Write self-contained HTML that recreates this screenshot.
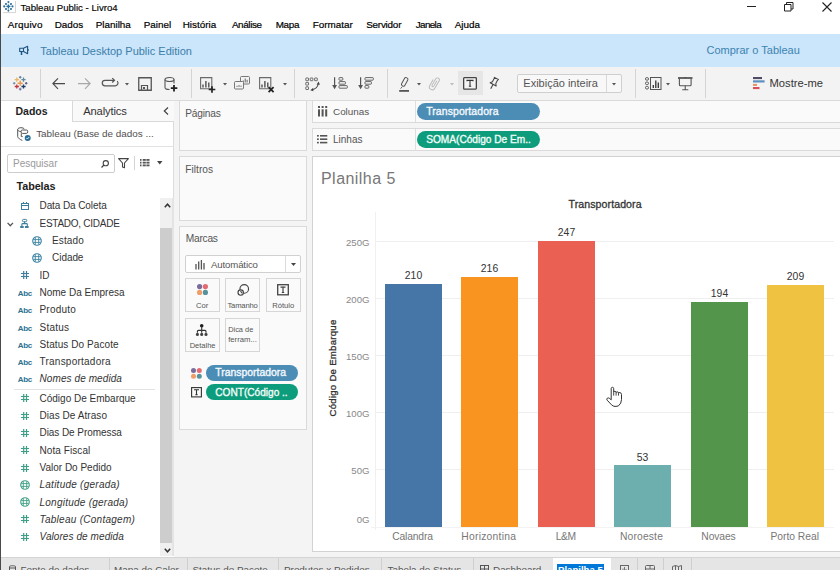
<!DOCTYPE html>
<html><head><meta charset="utf-8"><title>Tableau Public - Livro4</title>
<style>
*{margin:0;padding:0;box-sizing:border-box}
html,body{width:840px;height:570px;overflow:hidden;background:#fff}
body{position:relative;font-family:"Liberation Sans",sans-serif}
.t{position:absolute;white-space:nowrap}
.r{position:absolute;display:block}
svg.r{overflow:visible}
</style></head><body>
<div class="r" style="left:0px;top:34px;width:840px;height:33px;background:#cbe5fb;"></div>
<div class="r" style="left:0px;top:67px;width:840px;height:33px;background:#f3f3f3;"></div>
<div class="r" style="left:0px;top:100px;width:840px;height:1px;background:#dcdcdc;"></div>
<div class="r" style="left:0px;top:101px;width:840px;height:456px;background:#f4f4f4;"></div>
<div class="r" style="left:0px;top:101px;width:174px;height:456px;background:#ffffff;"></div>
<div class="r" style="left:173px;top:101px;width:1px;height:97px;background:#dcdcdc;"></div>
<div class="r" style="left:0px;top:557px;width:840px;height:1px;background:#d4d4d4;"></div>
<div class="r" style="left:0px;top:558px;width:840px;height:12px;background:#e5e5e5;"></div>
<div class="r" style="left:0px;top:0px;width:1px;height:570px;background:#4a4a4a;"></div>
<div class="t" style="left:20.50px;top:2px;font-size:9.6px;line-height:12px;color:#000;-webkit-text-stroke:0.15px #000;">Tableau Public - Livro4</div>
<div class="t" style="left:7.80px;top:19px;font-size:9.9px;line-height:12px;color:#000;letter-spacing:0.2px;-webkit-text-stroke:0.2px #000;">Arquivo</div>
<div class="t" style="left:54.70px;top:19px;font-size:9.9px;line-height:12px;color:#000;-webkit-text-stroke:0.2px #000;">Dados</div>
<div class="t" style="left:95.70px;top:19px;font-size:9.9px;line-height:12px;color:#000;-webkit-text-stroke:0.2px #000;">Planilha</div>
<div class="t" style="left:143.70px;top:19px;font-size:9.9px;line-height:12px;color:#000;-webkit-text-stroke:0.2px #000;">Painel</div>
<div class="t" style="left:182.70px;top:19px;font-size:9.9px;line-height:12px;color:#000;-webkit-text-stroke:0.2px #000;">História</div>
<div class="t" style="left:231.90px;top:19px;font-size:9.9px;line-height:12px;color:#000;letter-spacing:-0.38px;-webkit-text-stroke:0.2px #000;">Análise</div>
<div class="t" style="left:275.70px;top:19px;font-size:9.9px;line-height:12px;color:#000;letter-spacing:-0.3px;-webkit-text-stroke:0.2px #000;">Mapa</div>
<div class="t" style="left:312.70px;top:19px;font-size:9.9px;line-height:12px;color:#000;-webkit-text-stroke:0.2px #000;">Formatar</div>
<div class="t" style="left:366.20px;top:19px;font-size:9.9px;line-height:12px;color:#000;letter-spacing:-0.22px;-webkit-text-stroke:0.2px #000;">Servidor</div>
<div class="t" style="left:415.70px;top:19px;font-size:9.9px;line-height:12px;color:#000;letter-spacing:-0.62px;-webkit-text-stroke:0.2px #000;">Janela</div>
<div class="t" style="left:454.70px;top:19px;font-size:9.9px;line-height:12px;color:#000;-webkit-text-stroke:0.2px #000;">Ajuda</div>
<div class="t" style="left:40.30px;top:44px;font-size:11px;line-height:14px;color:#3b7fa9;">Tableau Desktop Public Edition</div>
<div class="t" style="left:706.50px;top:43px;font-size:11px;line-height:14px;color:#3b84b0;">Comprar o Tableau</div>
<div class="r" style="left:40px;top:69px;width:1px;height:29px;background:#d4d4d4;"></div>
<div class="r" style="left:191px;top:69px;width:1px;height:29px;background:#d4d4d4;"></div>
<div class="r" style="left:294px;top:69px;width:1px;height:29px;background:#d4d4d4;"></div>
<div class="r" style="left:387px;top:69px;width:1px;height:29px;background:#d4d4d4;"></div>
<div class="r" style="left:635px;top:69px;width:1px;height:29px;background:#d4d4d4;"></div>
<div class="r" style="left:705px;top:69px;width:1px;height:29px;background:#d4d4d4;"></div>
<div class="r" style="left:517px;top:74px;width:105px;height:19px;background:#f8f8f8;border:1px solid #cfcfcf;border-radius:2px;"></div>
<div class="r" style="left:606px;top:75px;width:1px;height:17px;background:#d8d8d8;"></div>
<div class="t" style="left:523.30px;top:76px;font-size:11px;line-height:14px;color:#555;">Exibição inteira</div>
<div class="r" style="left:458px;top:71px;width:25px;height:24px;background:#e6e6e6;"></div>
<div class="t" style="left:769.50px;top:76px;font-size:11.2px;line-height:14px;color:#333;">Mostre-me</div>
<div class="r" style="left:72px;top:101px;width:102px;height:21px;background:#f9f9f9;"></div>
<div class="r" style="left:72px;top:101px;width:1px;height:21px;background:#d9d9d9;"></div>
<div class="r" style="left:72px;top:121px;width:102px;height:1px;background:#d9d9d9;"></div>
<div class="t" style="left:15.50px;top:105px;font-size:10.5px;line-height:13px;color:#1e1e1e;font-weight:bold;">Dados</div>
<div class="t" style="left:83.20px;top:104px;font-size:11.2px;line-height:14px;color:#333;letter-spacing:-0.15px;">Analytics</div>
<div class="t" style="left:36.20px;top:128px;font-size:9.9px;line-height:12px;color:#505050;">Tableau (Base de dados ...</div>
<div class="r" style="left:1px;top:146px;width:173px;height:1px;background:#e2e2e2;"></div>
<div class="r" style="left:7px;top:154px;width:108px;height:19px;background:#fff;border:1px solid #cdcdcd;border-radius:2px;"></div>
<div class="t" style="left:13.00px;top:158px;font-size:10px;line-height:12px;color:#9a9a9a;">Pesquisar</div>
<div class="r" style="left:134px;top:156px;width:1px;height:14px;background:#d4d4d4;"></div>
<div class="t" style="left:16.60px;top:180px;font-size:10.8px;line-height:13px;color:#1e1e1e;font-weight:bold;letter-spacing:-0.1px;">Tabelas</div>
<div class="t" style="left:39.50px;top:200px;font-size:10px;line-height:12px;color:#333;letter-spacing:-0.090px;">Data Da Coleta</div>
<div class="t" style="left:39.50px;top:218px;font-size:10px;line-height:12px;color:#333;letter-spacing:-0.260px;">ESTADO, CIDADE</div>
<div class="t" style="left:52.10px;top:235px;font-size:10px;line-height:12px;color:#333;letter-spacing:0.100px;">Estado</div>
<div class="t" style="left:52.10px;top:252px;font-size:10px;line-height:12px;color:#333;letter-spacing:-0.070px;">Cidade</div>
<div class="t" style="left:39.50px;top:270px;font-size:10px;line-height:12px;color:#333;">ID</div>
<div class="t" style="left:39.50px;top:287px;font-size:10px;line-height:12px;color:#333;">Nome Da Empresa</div>
<div class="t" style="left:39.50px;top:304px;font-size:10px;line-height:12px;color:#333;letter-spacing:0.200px;">Produto</div>
<div class="t" style="left:39.50px;top:322px;font-size:10px;line-height:12px;color:#333;letter-spacing:0.250px;">Status</div>
<div class="t" style="left:39.50px;top:339px;font-size:10px;line-height:12px;color:#333;letter-spacing:0.090px;">Status Do Pacote</div>
<div class="t" style="left:39.50px;top:356px;font-size:10px;line-height:12px;color:#333;letter-spacing:0.235px;">Transportadora</div>
<div class="t" style="left:39.50px;top:373px;font-size:10px;line-height:12px;color:#333;font-style:italic;letter-spacing:0.090px;">Nomes de medida</div>
<div class="t" style="left:39.50px;top:393px;font-size:10px;line-height:12px;color:#333;">Código De Embarque</div>
<div class="t" style="left:39.50px;top:410px;font-size:10px;line-height:12px;color:#333;letter-spacing:0.060px;">Dias De Atraso</div>
<div class="t" style="left:39.50px;top:427px;font-size:10px;line-height:12px;color:#333;letter-spacing:-0.065px;">Dias De Promessa</div>
<div class="t" style="left:39.50px;top:445px;font-size:10px;line-height:12px;color:#333;letter-spacing:0.080px;">Nota Fiscal</div>
<div class="t" style="left:39.50px;top:462px;font-size:10px;line-height:12px;color:#333;">Valor Do Pedido</div>
<div class="t" style="left:39.50px;top:479px;font-size:10px;line-height:12px;color:#333;font-style:italic;letter-spacing:0.250px;">Latitude (gerada)</div>
<div class="t" style="left:39.50px;top:497px;font-size:10px;line-height:12px;color:#333;font-style:italic;letter-spacing:0.245px;">Longitude (gerada)</div>
<div class="t" style="left:39.50px;top:514px;font-size:10px;line-height:12px;color:#333;font-style:italic;letter-spacing:0.270px;">Tableau (Contagem)</div>
<div class="t" style="left:39.50px;top:531px;font-size:10px;line-height:12px;color:#333;font-style:italic;letter-spacing:0.080px;">Valores de medida</div>
<div class="r" style="left:14px;top:389px;width:141px;height:1px;background:#e3e3e3;"></div>
<div class="r" style="left:160px;top:198px;width:14px;height:358px;background:#f0f0f0;"></div>
<div class="r" style="left:172px;top:198px;width:2px;height:358px;background:#e4e4e4;"></div>
<div class="r" style="left:160px;top:228px;width:12px;height:315px;background:#cdcdcd;"></div>
<div class="r" style="left:179px;top:100px;width:128px;height:51px;background:#fafafa;border:1px solid #dadada;"></div>
<div class="t" style="left:185.30px;top:107px;font-size:10.2px;line-height:13px;color:#555;letter-spacing:-0.22px;">Páginas</div>
<div class="r" style="left:179px;top:156px;width:128px;height:65px;background:#fafafa;border:1px solid #dadada;"></div>
<div class="t" style="left:185.30px;top:163px;font-size:10.2px;line-height:13px;color:#555;">Filtros</div>
<div class="r" style="left:179px;top:226px;width:128px;height:204px;background:#fafafa;border:1px solid #dadada;"></div>
<div class="t" style="left:185.80px;top:232px;font-size:10.2px;line-height:13px;color:#555;letter-spacing:-0.25px;">Marcas</div>
<div class="r" style="left:185px;top:255px;width:116px;height:18px;background:#fff;border:1px solid #d0d0d0;border-radius:2px;"></div>
<div class="r" style="left:285px;top:256px;width:1px;height:16px;background:#dadada;"></div>
<div class="t" style="left:211.00px;top:259px;font-size:9.6px;line-height:12px;color:#555;letter-spacing:-0.12px;">Automático</div>
<div class="r" style="left:185px;top:278px;width:35px;height:34px;background:#fafafa;border:1px solid #d6d6d6;"></div>
<div class="r" style="left:225px;top:278px;width:35px;height:34px;background:#fafafa;border:1px solid #d6d6d6;"></div>
<div class="r" style="left:266px;top:278px;width:35px;height:34px;background:#fafafa;border:1px solid #d6d6d6;"></div>
<div class="r" style="left:185px;top:318px;width:35px;height:34px;background:#fafafa;border:1px solid #d6d6d6;"></div>
<div class="r" style="left:225px;top:318px;width:35px;height:34px;background:#fafafa;border:1px solid #d6d6d6;"></div>
<div class="t" style="left:196.00px;top:301px;font-size:7.6px;line-height:10px;color:#555;">Cor</div>
<div class="t" style="left:227.50px;top:301px;font-size:7.65px;line-height:10px;color:#555;letter-spacing:-0.2px;">Tamanho</div>
<div class="t" style="left:272.30px;top:301px;font-size:7.6px;line-height:10px;color:#555;">Rótulo</div>
<div class="t" style="left:189.70px;top:341px;font-size:7.5px;line-height:9px;color:#555;">Detalhe</div>
<div class="t" style="left:228.20px;top:325px;font-size:7.4px;line-height:9px;color:#555;">Dica de</div>
<div class="t" style="left:228.20px;top:335px;font-size:7.7px;line-height:10px;color:#555;">ferram...</div>
<div class="r" style="left:206px;top:365px;width:92px;height:16px;background:#4c8db6;border-radius:8px;"></div>
<div class="t" style="left:215.30px;top:366px;font-size:10.4px;line-height:13px;color:#f4f9fc;-webkit-text-stroke:0.35px #f4f9fc;">Transportadora</div>
<div class="r" style="left:206px;top:384px;width:92px;height:16px;background:#0e9d7c;border-radius:8px;"></div>
<div class="t" style="left:215.30px;top:386px;font-size:10.1px;line-height:13px;color:#f2fbf8;-webkit-text-stroke:0.35px #f2fbf8;">CONT(Código ..</div>
<div class="r" style="left:312px;top:100px;width:528px;height:23px;background:#fafafa;border:1px solid #dadada;border-right:none;"></div>
<div class="r" style="left:312px;top:128px;width:528px;height:23px;background:#fafafa;border:1px solid #dadada;border-right:none;"></div>
<div class="r" style="left:415px;top:101px;width:1px;height:21px;background:#dedede;"></div>
<div class="r" style="left:415px;top:129px;width:1px;height:22px;background:#dedede;"></div>
<div class="t" style="left:333.00px;top:106px;font-size:9.9px;line-height:12px;color:#555;">Colunas</div>
<div class="t" style="left:333.00px;top:134px;font-size:10px;line-height:12px;color:#555;">Linhas</div>
<div class="r" style="left:417px;top:103px;width:123px;height:17px;background:#4c8db6;border-radius:8.5px;"></div>
<div class="t" style="left:426.20px;top:105px;font-size:10.45px;line-height:13px;color:#f4f9fc;letter-spacing:0.1px;-webkit-text-stroke:0.35px #f4f9fc;">Transportadora</div>
<div class="r" style="left:417px;top:131px;width:123px;height:17px;background:#0e9d7c;border-radius:8.5px;"></div>
<div class="t" style="left:426.20px;top:133px;font-size:10.15px;line-height:13px;color:#f2fbf8;-webkit-text-stroke:0.35px #f2fbf8;">SOMA(Código De Em..</div>
<div class="r" style="left:312px;top:156px;width:528px;height:396px;background:#fff;border:1px solid #d2d2d2;border-right:none;"></div>
<div class="t" style="left:321.00px;top:169px;font-size:16px;line-height:20px;color:#777;letter-spacing:0.45px;">Planilha 5</div>
<div class="t" style="left:568.50px;top:198px;font-size:10.6px;line-height:13px;color:#333;letter-spacing:0.08px;-webkit-text-stroke:0.3px #333;">Transportadora</div>
<div class="t" style="left:333px;top:368px;font-size:9.6px;line-height:10px;color:#333;-webkit-text-stroke:0.3px #333;letter-spacing:0.27px;transform:translate(-50%,-50%) rotate(-90deg);">Código De Embarque</div>
<div class="r" style="left:375px;top:212px;width:1px;height:318px;background:#f0f0f0;"></div>
<div class="r" style="left:371px;top:527px;width:463px;height:1px;background:#f3f3f3;"></div>
<div class="t" style="right:470.50px;text-align:right;top:514px;font-size:9.6px;line-height:12px;color:#888;">0G</div>
<div class="r" style="left:376px;top:469px;width:458px;height:1px;background:#efefef;"></div>
<div class="t" style="right:470.50px;text-align:right;top:465px;font-size:9.6px;line-height:12px;color:#888;">50G</div>
<div class="r" style="left:376px;top:412px;width:458px;height:1px;background:#efefef;"></div>
<div class="t" style="right:470.50px;text-align:right;top:408px;font-size:9.6px;line-height:12px;color:#888;">100G</div>
<div class="r" style="left:376px;top:355px;width:458px;height:1px;background:#efefef;"></div>
<div class="t" style="right:470.50px;text-align:right;top:351px;font-size:9.6px;line-height:12px;color:#888;">150G</div>
<div class="r" style="left:376px;top:298px;width:458px;height:1px;background:#efefef;"></div>
<div class="t" style="right:470.50px;text-align:right;top:294px;font-size:9.6px;line-height:12px;color:#888;">200G</div>
<div class="r" style="left:376px;top:241px;width:458px;height:1px;background:#efefef;"></div>
<div class="t" style="right:470.50px;text-align:right;top:237px;font-size:9.6px;line-height:12px;color:#888;">250G</div>
<div class="r" style="left:385px;top:284px;width:57px;height:243px;background:#4676a8;"></div>
<div class="t" style="left:373.50px;width:80px;text-align:center;top:269px;font-size:10.4px;line-height:13px;color:#333;">210</div>
<div class="r" style="left:461px;top:277px;width:57px;height:250px;background:#f8941f;"></div>
<div class="t" style="left:449.50px;width:80px;text-align:center;top:262px;font-size:10.4px;line-height:13px;color:#333;">216</div>
<div class="r" style="left:538px;top:241px;width:57px;height:286px;background:#ea6052;"></div>
<div class="t" style="left:526.50px;width:80px;text-align:center;top:226px;font-size:10.4px;line-height:13px;color:#333;">247</div>
<div class="r" style="left:614px;top:465px;width:57px;height:62px;background:#6cafae;"></div>
<div class="t" style="left:602.50px;width:80px;text-align:center;top:451px;font-size:10.4px;line-height:13px;color:#333;">53</div>
<div class="r" style="left:691px;top:302px;width:57px;height:225px;background:#53964b;"></div>
<div class="t" style="left:679.50px;width:80px;text-align:center;top:287px;font-size:10.4px;line-height:13px;color:#333;">194</div>
<div class="r" style="left:767px;top:285px;width:57px;height:242px;background:#efc241;"></div>
<div class="t" style="left:755.50px;width:80px;text-align:center;top:270px;font-size:10.4px;line-height:13px;color:#333;">209</div>
<div class="t" style="left:392.30px;top:530px;font-size:10.3px;line-height:13px;color:#777;letter-spacing:-0.17px;">Calandra</div>
<div class="t" style="left:461.30px;top:530px;font-size:10.3px;line-height:13px;color:#777;letter-spacing:0.25px;">Horizontina</div>
<div class="t" style="left:555.70px;top:530px;font-size:10.3px;line-height:13px;color:#777;letter-spacing:-0.45px;">L&amp;M</div>
<div class="t" style="left:619.90px;top:530px;font-size:10.3px;line-height:13px;color:#777;letter-spacing:0.17px;">Noroeste</div>
<div class="t" style="left:701.30px;top:530px;font-size:10.3px;line-height:13px;color:#777;letter-spacing:-0.1px;">Novaes</div>
<div class="t" style="left:770.40px;top:530px;font-size:10.3px;line-height:13px;color:#777;">Porto Real</div>
<div class="t" style="left:20.50px;top:564px;font-size:9.9px;line-height:12px;color:#555;">Fonte de dados</div>
<div class="r" style="left:109px;top:558px;width:1px;height:12px;background:#cfcfcf;"></div>
<div class="t" style="left:114.00px;top:564px;font-size:9.9px;line-height:12px;color:#555;">Mapa de Calor</div>
<div class="r" style="left:187px;top:558px;width:1px;height:12px;background:#cfcfcf;"></div>
<div class="t" style="left:192.50px;top:564px;font-size:9.9px;line-height:12px;color:#555;">Status do Pacote</div>
<div class="r" style="left:278px;top:558px;width:1px;height:12px;background:#cfcfcf;"></div>
<div class="t" style="left:284.00px;top:564px;font-size:9.9px;line-height:12px;color:#555;">Produtos x Pedidos</div>
<div class="r" style="left:381px;top:558px;width:1px;height:12px;background:#cfcfcf;"></div>
<div class="t" style="left:387.50px;top:564px;font-size:9.9px;line-height:12px;color:#555;">Tabela de Status</div>
<div class="r" style="left:473px;top:558px;width:1px;height:12px;background:#cfcfcf;"></div>
<div class="t" style="left:493.00px;top:564px;font-size:9.9px;line-height:12px;color:#555;">Dashboard</div>
<div class="r" style="left:553px;top:558px;width:1px;height:12px;background:#cfcfcf;"></div>
<div class="r" style="left:553px;top:558px;width:58px;height:12px;background:#fff;"></div>
<div class="t" style="left:557px;top:564px;height:8px;width:47px;padding:0 0 0 1px;background:#0078d7;color:#fff;font-size:9.6px;line-height:11px;font-weight:bold;overflow:hidden;">Planilha 5</div>
<div class="r" style="left:637px;top:558px;width:1px;height:12px;background:#cfcfcf;"></div>
<div class="r" style="left:663px;top:558px;width:1px;height:12px;background:#cfcfcf;"></div>
<div class="r" style="left:691px;top:558px;width:1px;height:12px;background:#cfcfcf;"></div>
<svg class="r" style="left:0px;top:0px;" width="17" height="14" viewBox="0 0 17 14"><path d="M3 12.6H15.5V1" stroke="#d4d4d4" stroke-width="1" fill="none"/><path d="M8.4 2V10.6M4.2 6.4H12.5M6 4L11 9M11 4L6 9" stroke="#c5e8f2" stroke-width="0.8"/><circle cx="8.4" cy="2" r="1.05" fill="#2d6e98"/><circle cx="8.4" cy="10.6" r="1.05" fill="#2d6e98"/><circle cx="4.2" cy="6.4" r="1.05" fill="#2d6e98"/><circle cx="12.5" cy="6.4" r="1.05" fill="#2d6e98"/><circle cx="6" cy="4" r="1.05" fill="#2d6e98"/><circle cx="11" cy="4" r="1.05" fill="#2d6e98"/><circle cx="6" cy="9" r="1.05" fill="#2d6e98"/><circle cx="11" cy="9" r="1.05" fill="#2d6e98"/><path d="M8.4 4.4V8.4M6.4 6.4H10.4" stroke="#2d6e98" stroke-width="1.3"/></svg>
<div class="r" style="left:747px;top:6px;width:9px;height:1px;background:#222;"></div>
<svg class="r" style="left:784px;top:2px;" width="10" height="10" viewBox="0 0 10 10"><path d="M0.5 2.5h6.5v6.5h-6.5z M2.5 2.5v-2h6.5v6.5h-2" fill="none" stroke="#222" stroke-width="1"/></svg>
<svg class="r" style="left:822px;top:2px;" width="10" height="10" viewBox="0 0 10 10"><path d="M0.5 0.5L9.5 9.5M9.5 0.5L0.5 9.5" stroke="#222" stroke-width="1.1"/></svg>
<svg class="r" style="left:19px;top:45px;" width="11" height="11" viewBox="0 0 11 11"><path d="M0.7 3.3H4.5L8.6 1.2V8.7L4.5 6.5H0.7ZM4.5 3.3V6.5" fill="none" stroke="#1f5480" stroke-width="1.1" stroke-linejoin="round"/><rect x="8.6" y="4.1" width="1.1" height="1.8" fill="#1f5480"/><path d="M2.5 6.5V10" stroke="#1f5480" stroke-width="1.5"/></svg>
<svg class="r" style="left:13px;top:76px;" width="15" height="15" viewBox="0 0 15 15"><path d="M4.6 7.2H9.8M7.2 4.6V9.8" stroke="#e99a4e" stroke-width="1.4"/><path d="M1.6999999999999997 3.7H5.9M3.8 1.6V5.800000000000001" stroke="#efb25e" stroke-width="1.3"/><path d="M8.4 3.7H12.6M10.5 1.6V5.800000000000001" stroke="#5e8ca3" stroke-width="1.3"/><path d="M1.6999999999999997 10.5H5.9M3.8 8.4V12.6" stroke="#c6343c" stroke-width="1.3"/><path d="M8.4 10.5H12.6M10.5 8.4V12.6" stroke="#1d3e6b" stroke-width="1.3"/><path d="M5.9 1.2H8.5M7.2 -0.10000000000000009V2.5" stroke="#5a7d9c" stroke-width="1.1"/><path d="M5.9 13.1H8.5M7.2 11.799999999999999V14.4" stroke="#6c78a0" stroke-width="1.1"/><path d="M-0.10000000000000009 7.2H2.5M1.2 5.9V8.5" stroke="#6f8ca3" stroke-width="1.1"/><path d="M11.899999999999999 7.2H14.5M13.2 5.9V8.5" stroke="#55557f" stroke-width="1.1"/></svg>
<svg class="r" style="left:51px;top:78px;" width="15" height="12" viewBox="0 0 15 12"><path d="M14 5.6H1.9M7 0.4L1.9 5.6L7 10.8" fill="none" stroke="#4a4a4a" stroke-width="1.2"/></svg>
<svg class="r" style="left:77px;top:78px;" width="15" height="12" viewBox="0 0 15 12"><path d="M1 5.6h12.1M8 0.4L13.1 5.6L8 10.8" fill="none" stroke="#a8a8a8" stroke-width="1.2"/></svg>
<svg class="r" style="left:102px;top:79px;" width="17" height="9" viewBox="0 0 17 9"><path d="M3 1.3H12.2M3 1.3A2.75 2.75 0 0 0 3 6.8H13.3A2.75 2.75 0 0 0 15.2 2.1" fill="none" stroke="#555" stroke-width="1.2"/><path d="M10.2 -0.9L12.5 1.3L10.2 3.5" fill="none" stroke="#555" stroke-width="1.2"/></svg>
<svg class="r" style="left:125px;top:82.5px;" width="4" height="3" viewBox="0 0 4 3"><path d="M0 0h4L2 2.5z" fill="#555"/></svg>
<svg class="r" style="left:138px;top:77px;" width="14" height="14" viewBox="0 0 14 14"><path d="M0.75 0.75h12.5v12.5H0.75z" fill="none" stroke="#555" stroke-width="1.3"/><path d="M3.5 13V8.5h6V13" fill="none" stroke="#555" stroke-width="1.2"/><rect x="5" y="10" width="2" height="2" fill="#555"/></svg>
<svg class="r" style="left:164px;top:77px;" width="14" height="15" viewBox="0 0 14 15"><ellipse cx="5.5" cy="2.5" rx="4.5" ry="2" fill="none" stroke="#555" stroke-width="1.1"/><path d="M1 2.5v8c0 1.1 2 2 4.5 2M10 2.5v4" fill="none" stroke="#555" stroke-width="1.1"/><path d="M10 8v6.5M6.8 11.2h6.5" stroke="#222" stroke-width="1.8"/></svg>
<svg class="r" style="left:200px;top:77px;" width="17" height="16" viewBox="0 0 17 16"><path d="M0.6 0.6h11.2v11.2h-11.2z" fill="none" stroke="#6a6a6a" stroke-width="1.1"/><path d="M3 10.6V7.6M5.9 10.6V4M8.8 10.6V5.6" stroke="#444" stroke-width="1.3"/><path d="M12 9.2v6.6M8.7 12.5h6.6" stroke="#222" stroke-width="1.7"/></svg>
<svg class="r" style="left:223px;top:82.5px;" width="4" height="3" viewBox="0 0 4 3"><path d="M0 0h4L2 2.5z" fill="#555"/></svg>
<svg class="r" style="left:234px;top:76px;" width="16" height="14" viewBox="0 0 16 14"><rect x="6.5" y="0.5" width="9" height="7.5" rx="1" fill="#f3f3f3" stroke="#777" stroke-width="1"/><path d="M9.3 6.5V4.5M11.2 6.5V2.5M13.1 6.5V3.8" stroke="#555" stroke-width="0.9"/><rect x="0.5" y="5.5" width="9" height="7.5" rx="1" fill="#f3f3f3" stroke="#777" stroke-width="1"/><path d="M3 11V9.8M5 11V9M7 11V9.6" stroke="#666" stroke-width="0.9"/></svg>
<svg class="r" style="left:259px;top:77px;" width="17" height="16" viewBox="0 0 17 16"><path d="M0.6 0.6h11.2v11.2h-11.2z" fill="none" stroke="#6a6a6a" stroke-width="1.1"/><path d="M3 10.6V7.6M5.9 10.6V4M8.8 10.6V5.6" stroke="#444" stroke-width="1.3"/><path d="M9.6 10.2l5 5M14.6 10.2l-5 5" stroke="#222" stroke-width="1.7"/></svg>
<svg class="r" style="left:283px;top:82.5px;" width="4" height="3" viewBox="0 0 4 3"><path d="M0 0h4L2 2.5z" fill="#555"/></svg>
<svg class="r" style="left:305px;top:77px;" width="16" height="15" viewBox="0 0 16 15"><g fill="none" stroke="#555" stroke-width="0.85"><rect x="0.8" y="1" width="2.7" height="2.7" rx="0.4"/><rect x="5.2" y="1" width="2.7" height="2.7" rx="0.4"/><rect x="9.6" y="1" width="2.7" height="2.7" rx="0.4"/><rect x="0.8" y="5.4" width="2.7" height="2.7" rx="0.4"/><rect x="0.8" y="9.8" width="2.7" height="2.7" rx="0.4"/></g><path d="M7.3 12.6Q12.3 11.6 13.2 7" fill="none" stroke="#444" stroke-width="1.1"/><path d="M11.6 7.4L13.6 4.6L14.9 7.8Z M8 11L5.3 13.2L8.4 14.2Z" fill="#444"/></svg>
<svg class="r" style="left:332px;top:77px;" width="16" height="13" viewBox="0 0 16 13"><path d="M2.6 0.3V8.5" stroke="#555" stroke-width="1.2"/><path d="M0.2 8L5 8L2.6 12.2Z" fill="#555"/><g fill="none" stroke="#555" stroke-width="0.9"><rect x="7" y="0.6" width="3.8" height="2.6" rx="0.6"/><rect x="7" y="4.6" width="6.4" height="2.6" rx="0.6"/><rect x="7" y="8.6" width="8.3" height="2.6" rx="0.6"/></g></svg>
<svg class="r" style="left:358px;top:77px;" width="16" height="13" viewBox="0 0 16 13"><path d="M2.6 0.3V8.5" stroke="#555" stroke-width="1.2"/><path d="M0.2 8L5 8L2.6 12.2Z" fill="#555"/><g fill="none" stroke="#555" stroke-width="0.9"><rect x="7" y="0.6" width="8.3" height="2.6" rx="0.6"/><rect x="7" y="4.6" width="6.4" height="2.6" rx="0.6"/><rect x="7" y="8.6" width="3.8" height="2.6" rx="0.6"/></g></svg>
<svg class="r" style="left:398px;top:77px;" width="12" height="15" viewBox="0 0 12 15"><rect x="-1.8" y="0" width="3.6" height="9" rx="1.3" fill="none" stroke="#555" stroke-width="1" transform="translate(8.8 0.9) rotate(28)"/><path d="M4.3 9.6L2.6 11.6" stroke="#666" stroke-width="1"/><rect x="1.2" y="13" width="9.8" height="1.8" fill="#555"/></svg>
<svg class="r" style="left:416.7px;top:82.8px;" width="4" height="3" viewBox="0 0 4 3"><path d="M0 0h4L2 2.5z" fill="#555"/></svg>
<svg class="r" style="left:429px;top:77px;" width="12" height="13" viewBox="0 0 12 13"><g transform="translate(5.3 6.2) rotate(30) translate(-2.9 -6.6)"><path d="M3.9 3.2v6.2a1 1 0 0 1-2 0V2.2a2 2 0 0 1 4 0v8.6a2.9 2.9 0 0 1-5.8 0V4" fill="none" stroke="#b9b9b9" stroke-width="0.95"/></g></svg>
<svg class="r" style="left:450px;top:83px;" width="4" height="3" viewBox="0 0 4 3"><path d="M0 0h4L2 2.5z" fill="#bbb"/></svg>
<svg class="r" style="left:463px;top:77px;" width="14" height="13" viewBox="0 0 14 13"><rect x="0.65" y="0.65" width="12.7" height="11.5" rx="0.8" fill="#f4f4f4" stroke="#444" stroke-width="1.3"/><path d="M4 4.2V3.4h6v0.8M7 3.4v5.8M5.8 9.3h2.4" fill="none" stroke="#333" stroke-width="1.1"/></svg>
<svg class="r" style="left:489px;top:77px;" width="11" height="13" viewBox="0 0 11 13"><g transform="translate(7.6 1) rotate(28.6)"><path d="M-2.8 0.5H2.8M-1.9 0.5V5.2L-3.4 7.2H3.4L1.9 5.2V0.5" fill="none" stroke="#444" stroke-width="1.05" stroke-linejoin="round"/><path d="M0 7.2V12.2" stroke="#444" stroke-width="1.1"/></g></svg>
<svg class="r" style="left:611.5px;top:82.5px;" width="4" height="3" viewBox="0 0 4 3"><path d="M0 0h4L2 2.5z" fill="#555"/></svg>
<svg class="r" style="left:644.5px;top:77px;" width="17" height="13" viewBox="0 0 17 13"><g fill="none" stroke="#555" stroke-width="1"><rect x="0.5" y="0.6" width="3" height="2.6" rx="1.2"/><rect x="0.5" y="5" width="3" height="2.6" rx="1.2"/><rect x="0.5" y="9.4" width="3" height="2.6" rx="1.2"/><rect x="5.5" y="0.5" width="10.5" height="12"/></g><path d="M8.3 11V8M10.8 11V3.5M13.3 11V5.5" stroke="#333" stroke-width="1.3"/></svg>
<svg class="r" style="left:665.5px;top:82.5px;" width="4" height="3" viewBox="0 0 4 3"><path d="M0 0h4L2 2.5z" fill="#555"/></svg>
<svg class="r" style="left:678px;top:77px;" width="15" height="14" viewBox="0 0 15 14"><path d="M0 1h14.5" stroke="#444" stroke-width="1.6"/><path d="M7.25 0v1" stroke="#444" stroke-width="1"/><path d="M1.4 1.5v6.3q0 1 1 1h9.7q1 0 1-1V1.5" fill="none" stroke="#555" stroke-width="1.1"/><path d="M7.25 8.8v3.8M4.2 12.8h6.1" stroke="#555" stroke-width="1.1"/></svg>
<svg class="r" style="left:753px;top:77px;" width="13" height="13" viewBox="0 0 13 13"><rect x="0" y="0" width="9" height="2.1" fill="#4f4d66"/><rect x="0" y="3.3" width="11.6" height="2.2" fill="#5d8fc0"/><rect x="0" y="6.9" width="4" height="2" fill="#e8935f"/><rect x="0" y="10" width="6.5" height="2.1" fill="#dc4f58"/></svg>
<svg class="r" style="left:17px;top:127px;" width="15" height="15" viewBox="0 0 15 15"><g fill="none" stroke="#555" stroke-width="1"><path d="M7.3 1.8C6.4 0.3 1.4 0.3 0.7 2V9.6C1.1 11.2 3.1 12.7 5.3 13.4"/><path d="M0.9 3.2C2 4.4 3 4.6 4 4.4"/><rect x="4.1" y="3" width="6.6" height="3.4" rx="1.3"/><path d="M4.3 6.4V9.6h1.4"/></g><circle cx="10.7" cy="10.9" r="3" fill="#2b6d95"/><path d="M9.3 10.9l1.1 1.1 1.8-2" fill="none" stroke="#dff" stroke-width="0.9"/></svg>
<svg class="r" style="left:162.5px;top:106.5px;" width="6" height="8" viewBox="0 0 6 8"><path d="M5 0.5L1.3 4 5 7.5" fill="none" stroke="#444" stroke-width="1.2"/></svg>
<svg class="r" style="left:100.5px;top:160px;" width="8" height="8" viewBox="0 0 8 8"><circle cx="4.8" cy="3.2" r="2.6" fill="none" stroke="#444" stroke-width="1.1"/><path d="M3 5l-2.5 2.5" stroke="#444" stroke-width="1.3"/></svg>
<svg class="r" style="left:118px;top:157.5px;" width="11" height="10.5" viewBox="0 0 11 10.5"><path d="M0.6 0.6h9.8L6.5 5v4.8L4.5 9V5z" fill="none" stroke="#444" stroke-width="1.1" stroke-linejoin="round"/></svg>
<svg class="r" style="left:140px;top:159px;" width="11" height="8" viewBox="0 0 11 8"><g fill="#555"><rect x="0" y="0.0" width="1.5" height="1.8"/><rect x="2.7" y="0.0" width="3.1" height="1.8"/><rect x="6.4" y="0.0" width="3.1" height="1.8"/><rect x="0" y="2.75" width="1.5" height="1.8"/><rect x="2.7" y="2.75" width="3.1" height="1.8"/><rect x="6.4" y="2.75" width="3.1" height="1.8"/><rect x="0" y="5.5" width="1.5" height="1.8"/><rect x="2.7" y="5.5" width="3.1" height="1.8"/><rect x="6.4" y="5.5" width="3.1" height="1.8"/></g></svg>
<svg class="r" style="left:157.2px;top:161px;" width="5.5" height="4" viewBox="0 0 5.5 4"><path d="M0 0h5.5L2.75 3.5z" fill="#444"/></svg>
<svg class="r" style="left:20px;top:201px;" width="10" height="10" viewBox="0 0 10 10"><rect x="1.5" y="2.5" width="7" height="6" fill="none" stroke="#3d7f9c" stroke-width="1"/><path d="M1.5 4.5h7" stroke="#3d7f9c" stroke-width="1"/><path d="M3.5 1v2M6.5 1v2" stroke="#3d7f9c" stroke-width="1"/></svg>
<svg class="r" style="left:20px;top:218px;" width="10" height="11" viewBox="0 0 10 11"><rect x="2.4" y="1.4" width="4.4" height="2.3" rx="1.15" fill="none" stroke="#3d7f9c" stroke-width="1"/><path d="M4.6 3.7V5.6M1.9 8.2V6.3Q1.9 5.6 2.6 5.6H6.6Q7.3 5.6 7.3 6.3V8.2" fill="none" stroke="#3d7f9c" stroke-width="1.1"/><rect x="0.2" y="8" width="3.5" height="2" fill="#3d7f9c"/><rect x="5" y="8" width="3.6" height="2" fill="#3d7f9c"/></svg>
<svg class="r" style="left:32px;top:236px;" width="10" height="10" viewBox="0 0 10 10"><circle cx="5" cy="5" r="4.3" fill="none" stroke="#3b84a2" stroke-width="1.1"/><path d="M3.3 1.3V8.7M6.7 1.3V8.7M1.2 3.6H8.8M1.2 6.4H8.8" stroke="#3b84a2" stroke-width="0.9"/></svg>
<svg class="r" style="left:32px;top:253px;" width="10" height="10" viewBox="0 0 10 10"><circle cx="5" cy="5" r="4.3" fill="none" stroke="#3b84a2" stroke-width="1.1"/><path d="M3.3 1.3V8.7M6.7 1.3V8.7M1.2 3.6H8.8M1.2 6.4H8.8" stroke="#3b84a2" stroke-width="0.9"/></svg>
<svg class="r" style="left:20.8px;top:271.4px;" width="8" height="8" viewBox="0 0 8 8"><path d="M2.7 0v8M5.5 0v8M0 2.5h8M0 5.5h8" stroke="#3d7f9c" stroke-width="1.2"/></svg>
<div class="t" style="left:17.80px;top:289px;font-size:8px;line-height:10px;color:#2e7190;font-weight:bold;letter-spacing:-0.3px;">Abc</div>
<div class="t" style="left:17.80px;top:306px;font-size:8px;line-height:10px;color:#2e7190;font-weight:bold;letter-spacing:-0.3px;">Abc</div>
<div class="t" style="left:17.80px;top:324px;font-size:8px;line-height:10px;color:#2e7190;font-weight:bold;letter-spacing:-0.3px;">Abc</div>
<div class="t" style="left:17.80px;top:341px;font-size:8px;line-height:10px;color:#2e7190;font-weight:bold;letter-spacing:-0.3px;">Abc</div>
<div class="t" style="left:17.80px;top:358px;font-size:8px;line-height:10px;color:#2e7190;font-weight:bold;letter-spacing:-0.3px;">Abc</div>
<div class="t" style="left:17.80px;top:375px;font-size:8px;line-height:10px;color:#2e7190;font-weight:bold;letter-spacing:-0.3px;">Abc</div>
<svg class="r" style="left:20.8px;top:394.0px;" width="8" height="8" viewBox="0 0 8 8"><path d="M2.7 0v8M5.5 0v8M0 2.5h8M0 5.5h8" stroke="#3d9f86" stroke-width="1.2"/></svg>
<svg class="r" style="left:20.8px;top:411.5px;" width="8" height="8" viewBox="0 0 8 8"><path d="M2.7 0v8M5.5 0v8M0 2.5h8M0 5.5h8" stroke="#3d9f86" stroke-width="1.2"/></svg>
<svg class="r" style="left:20.8px;top:428.9px;" width="8" height="8" viewBox="0 0 8 8"><path d="M2.7 0v8M5.5 0v8M0 2.5h8M0 5.5h8" stroke="#3d9f86" stroke-width="1.2"/></svg>
<svg class="r" style="left:20.8px;top:446.1px;" width="8" height="8" viewBox="0 0 8 8"><path d="M2.7 0v8M5.5 0v8M0 2.5h8M0 5.5h8" stroke="#3d9f86" stroke-width="1.2"/></svg>
<svg class="r" style="left:20.8px;top:463.5px;" width="8" height="8" viewBox="0 0 8 8"><path d="M2.7 0v8M5.5 0v8M0 2.5h8M0 5.5h8" stroke="#3d9f86" stroke-width="1.2"/></svg>
<svg class="r" style="left:19.5px;top:480px;" width="10" height="10" viewBox="0 0 10 10"><circle cx="5" cy="5" r="4.3" fill="none" stroke="#3fa086" stroke-width="1.1"/><path d="M3.3 1.3V8.7M6.7 1.3V8.7M1.2 3.6H8.8M1.2 6.4H8.8" stroke="#3fa086" stroke-width="0.9"/></svg>
<svg class="r" style="left:19.5px;top:497px;" width="10" height="10" viewBox="0 0 10 10"><circle cx="5" cy="5" r="4.3" fill="none" stroke="#3fa086" stroke-width="1.1"/><path d="M3.3 1.3V8.7M6.7 1.3V8.7M1.2 3.6H8.8M1.2 6.4H8.8" stroke="#3fa086" stroke-width="0.9"/></svg>
<svg class="r" style="left:20.8px;top:515.3px;" width="8" height="8" viewBox="0 0 8 8"><path d="M2.7 0v8M5.5 0v8M0 2.5h8M0 5.5h8" stroke="#3d9f86" stroke-width="1.2"/></svg>
<svg class="r" style="left:20.8px;top:532.7px;" width="8" height="8" viewBox="0 0 8 8"><path d="M2.7 0v8M5.5 0v8M0 2.5h8M0 5.5h8" stroke="#3d9f86" stroke-width="1.2"/></svg>
<svg class="r" style="left:7px;top:221.5px;" width="7" height="5" viewBox="0 0 7 5"><path d="M0.6 0.9L3.3 3.8L6 0.9" fill="none" stroke="#555" stroke-width="1.3"/></svg>
<svg class="r" style="left:163.5px;top:202.5px;" width="7" height="5" viewBox="0 0 7 5"><path d="M0.8 4.2L3.5 1.2l2.7 3" fill="none" stroke="#333" stroke-width="1.5"/></svg>
<svg class="r" style="left:163.5px;top:548px;" width="7" height="5" viewBox="0 0 7 5"><path d="M0.8 0.8L3.5 3.8l2.7-3" fill="none" stroke="#333" stroke-width="1.5"/></svg>
<svg class="r" style="left:194.5px;top:259.5px;" width="10" height="9.5" viewBox="0 0 10 9.5"><path d="M1 9.5V4M3.7 9.5V1.5M6.4 9.5V0M9 9.5V3" stroke="#555" stroke-width="1.3"/></svg>
<svg class="r" style="left:290.5px;top:262.5px;" width="5.5" height="3.5" viewBox="0 0 5.5 3.5"><path d="M0 0h5L2.5 3z" fill="#444"/></svg>
<svg class="r" style="left:196.7px;top:284.2px;" width="12" height="12" viewBox="0 0 12 12"><circle cx="2.6" cy="2.6" r="2.6" fill="#7a6d9b"/><circle cx="8.4" cy="2.6" r="2.6" fill="#e36c73"/><circle cx="2.6" cy="8.4" r="2.6" fill="#ef9e6a"/><circle cx="8.4" cy="8.4" r="2.6" fill="#58929b"/></svg>
<svg class="r" style="left:236.5px;top:284px;" width="13" height="12" viewBox="0 0 13 12"><g fill="none" stroke="#444" stroke-width="1.15"><circle cx="7.25" cy="4.9" r="4.3"/><circle cx="3.7" cy="8.5" r="2.7" fill="#fafafa"/></g><path d="M3.5 7.2l1.6 1.9" stroke="#444" stroke-width="1.1"/></svg>
<svg class="r" style="left:277.3px;top:284px;" width="12" height="11.5" viewBox="0 0 12 11.5"><rect x="0.7" y="0.7" width="10.6" height="10.1" fill="none" stroke="#444" stroke-width="1.3"/><path d="M3.5 3.2h5M6 3.2v5.3M4.8 8.5h2.4" stroke="#444" stroke-width="1.2"/></svg>
<svg class="r" style="left:196.3px;top:324px;" width="12" height="12.5" viewBox="0 0 12 12.5"><circle cx="5.7" cy="1.8" r="1.8" fill="#222"/><path d="M5.7 3v3.4M1.4 8.8V7.4q0-1 1-1h6.6q1 0 1 1v1.4M5.7 6.4v2.4" fill="none" stroke="#333" stroke-width="1.1"/><circle cx="1.4" cy="10.4" r="1.55" fill="#444"/><circle cx="5.7" cy="10.4" r="1.55" fill="#444"/><circle cx="10" cy="10.4" r="1.55" fill="#444"/></svg>
<svg class="r" style="left:191px;top:367.5px;" width="11.5" height="11.5" viewBox="0 0 11.5 11.5"><circle cx="2.5" cy="2.5" r="2.5" fill="#7a6d9b"/><circle cx="8.3" cy="2.5" r="2.5" fill="#e36c73"/><circle cx="2.5" cy="8.3" r="2.5" fill="#ef9e6a"/><circle cx="8.3" cy="8.3" r="2.5" fill="#58929b"/></svg>
<svg class="r" style="left:191px;top:386.5px;" width="11" height="10.5" viewBox="0 0 11 10.5"><rect x="0.6" y="0.6" width="9.8" height="9.3" fill="none" stroke="#333" stroke-width="1.1"/><path d="M3 2.8h5M5.5 2.8v5M4.3 7.8h2.4" stroke="#333" stroke-width="1.1"/></svg>
<svg class="r" style="left:317.5px;top:105.5px;" width="10" height="10.5" viewBox="0 0 10 10.5"><g fill="#555"><rect x="0" y="0" width="2" height="2"/><rect x="3.6" y="0" width="2" height="2"/><rect x="7.2" y="0" width="2" height="2"/><rect x="0" y="3.3" width="2" height="7.2"/><rect x="3.6" y="3.3" width="2" height="7.2"/><rect x="7.2" y="3.3" width="2" height="7.2"/></g></svg>
<svg class="r" style="left:317px;top:134.8px;" width="10.5" height="8.5" viewBox="0 0 10.5 8.5"><g fill="#555"><rect x="0" y="0" width="1.8" height="1.6"/><rect x="0" y="3.4" width="1.8" height="1.6"/><rect x="0" y="6.8" width="1.8" height="1.6"/><rect x="3" y="0" width="7.3" height="1.6"/><rect x="3" y="3.4" width="7.3" height="1.6"/><rect x="3" y="6.8" width="7.3" height="1.6"/></g></svg>
<svg class="r" style="left:8.5px;top:565px;" width="7" height="6" viewBox="0 0 7 6"><path d="M0.5 1.5c0-1 6-1 6 0v5h-6z M0.5 3h6" fill="none" stroke="#555" stroke-width="1"/></svg>
<svg class="r" style="left:479.5px;top:564.5px;" width="9" height="7" viewBox="0 0 9 7"><rect x="0.5" y="0.5" width="8" height="7" fill="none" stroke="#555" stroke-width="1"/><path d="M4.5 0.5v7M0.5 4h8" stroke="#555" stroke-width="1"/></svg>
<svg class="r" style="left:619.5px;top:565px;" width="9" height="6" viewBox="0 0 9 6"><rect x="0.5" y="0.5" width="8" height="7" fill="none" stroke="#666" stroke-width="1"/><path d="M4.5 2v5M3 3.5v3.5M6 4v3" stroke="#666" stroke-width="0.9"/></svg>
<svg class="r" style="left:645px;top:565px;" width="10" height="6" viewBox="0 0 10 6"><rect x="0.5" y="0.5" width="9" height="7" rx="1" fill="none" stroke="#666" stroke-width="1"/><path d="M5 0.5v3.5M0.5 4h9" stroke="#666" stroke-width="1"/></svg>
<svg class="r" style="left:671.5px;top:565px;" width="10" height="6" viewBox="0 0 10 6"><path d="M0.5 1.5l3 -1 3 1 3 -1v7l-3 1-3-1-3 1z M3.5 0.5v7 M6.5 1.5v7" fill="none" stroke="#666" stroke-width="1"/></svg>
<svg class="r" style="left:605px;top:386px;" width="18" height="22" viewBox="0 0 18 22"><path d="M6.2 13.8V2.6Q6.2 1.3 7.45 1.3Q8.7 1.3 8.7 2.6V6.2Q8.7 5.3 9.9 5.3Q11.1 5.3 11.1 6.4V6.6Q11.1 5.8 12.3 5.8Q13.5 5.8 13.5 7V7.2Q13.5 6.4 14.9 6.6Q16.5 6.8 16.5 8.5V13.5Q16.5 17.5 13.5 19.8Q12.3 20.4 10 20.4Q8 20.4 6.5 18.8L2.2 14.2Q1.2 13 2.3 12.2Q3.5 11.4 4.8 12.6Z" fill="#fff" stroke="#333" stroke-width="1" stroke-linejoin="round"/><path d="M8.7 6.2V9.6M11.1 6.6V9.6M13.5 7.2V9.6" stroke="#333" stroke-width="0.9"/></svg>
</body></html>
